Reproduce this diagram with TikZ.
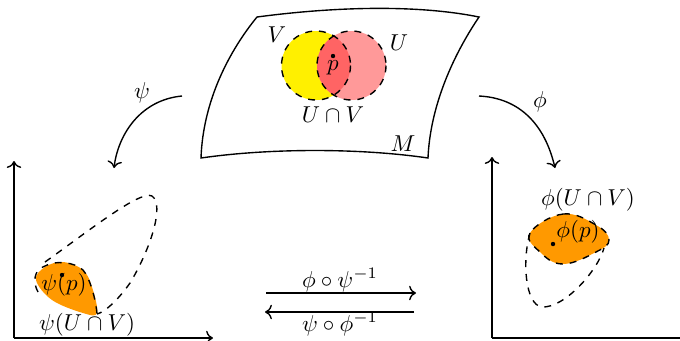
\documentclass[tikz,border=0pt]{standalone}
\usetikzlibrary{arrows.meta}
\definecolor{myyellow}{RGB}{255,240,0}
\definecolor{mypink}{RGB}{255,153,153}
\definecolor{myred}{RGB}{255,100,100}
\definecolor{myorange}{RGB}{255,153,0}
\begin{document}
\begin{tikzpicture}[x=0.435pt,y=-0.435pt,
  edge/.style={semithick},
  dashline/.style={semithick,dashed},
  axis/.style={semithick,-{To[length=3pt]}},
  maparrow/.style={semithick,-{To[length=3pt]}},
  lab/.style={inner sep=1pt}]
\useasboundingbox (0,0) rectangle (680,340);
% manifold
\draw[edge] (257,17) .. controls (340,6) and (420,5) .. (479,17)
  .. controls (450,60) and (430,110) .. (428,158)
  .. controls (360,148) and (270,148) .. (201,158)
  .. controls (203,100) and (230,50) .. (257,17) -- cycle;
\coordinate (cV) at (316,65.5);
\coordinate (cU) at (351.5,65.5);
\fill[myyellow] (cV) circle[radius=34.5];
\fill[mypink] (cU) circle[radius=34.5];
\begin{scope}
  \clip (cV) circle[radius=34.5];
  \fill[myred] (cU) circle[radius=34.5];
\end{scope}
\draw[dashline] (cV) circle[radius=34.5];
\draw[dashline] (cU) circle[radius=34.5];
\fill (333,56) circle[radius=2.2];
\node[lab] (p) at (333,68) {$p$};
\node[lab] (V) at (277,35) {$V$};
\node[lab] (U) at (399,43) {$U$};
\node[lab] (UV) at (333,115) {$U\cap V$};
\node[lab] (M) at (403,144) {$M$};
% left chart
\coordinate (lo) at (14,338);
\coordinate (ly) at (14,161);
\coordinate (lx) at (213,338);
\draw[axis] (lo) -- (ly);
\draw[axis] (lo) -- (lx);
\fill[myorange] plot[smooth cycle, tension=0.6] coordinates {(36,280) (45,267) (63,262) (83,270) (92,287) (97,313) (83,313) (52,300)};
\draw[dashline] (38,292) .. controls (33,283) and (33,270) .. (45,266)
  .. controls (55,260) and (75,262) .. (83,270)
  .. controls (90,278) and (96,300) .. (97,314);
\draw[dashline] (45,262) .. controls (90,230) and (140,190) .. (152,196)
  .. controls (165,205) and (150,250) .. (130,283)
  .. controls (118,300) and (105,312) .. (97,314);
\fill (62,275) circle[radius=2.2];
\node[lab] (psip) at (64,285) {$\psi(p)$};
\node[lab] (psiUV) at (87,325) {$\psi(U\cap V)$};
% right chart
\coordinate (ro) at (492,338);
\coordinate (ry) at (492,157);
\coordinate (rx) at (690,338);
\draw[axis] (ro) -- (ry);
\draw[axis] (ro) -- (rx);
\fill[myorange] plot[smooth cycle, tension=0.7] coordinates {(530,233) (563,214) (596,225) (609,240) (596,252) (563,264) (540,252)};
\draw[dashline] plot[smooth cycle, tension=0.7] coordinates {(530,233) (563,214) (596,225) (609,240) (596,252) (563,264) (540,252)};
\draw[dashline] (530,233) .. controls (522,260) and (525,305) .. (542,307)
  .. controls (565,308) and (598,270) .. (604,248);
\fill (553,244) circle[radius=2.2];
\node[lab] (phip) at (578,232) {$\phi(p)$};
\node[lab] (phiUV) at (588,200) {$\phi(U\cap V)$};
% chart maps
\coordinate (psiS) at (182,96);
\coordinate (psiE) at (114,168);
\draw[maparrow] (psiS) .. controls (140,100) and (118,135) .. (psiE);
\node[lab] (psi) at (142,93) {$\psi$};
\coordinate (phiS) at (479,96);
\coordinate (phiE) at (555,168);
\draw[maparrow] (phiS) .. controls (520,98) and (545,125) .. (phiE);
\node[lab] (phi) at (540,102) {$\phi$};
% transition maps
\coordinate (t1a) at (266,293);
\coordinate (t1b) at (416,293);
\coordinate (t2a) at (414,312);
\coordinate (t2b) at (265,312);
\draw[maparrow] (t1a) -- (t1b);
\draw[maparrow] (t2a) -- (t2b);
\node[lab] (tr1) at (340,280) {$\phi\circ\psi^{-1}$};
\node[lab] (tr2) at (340,324) {$\psi\circ\phi^{-1}$};
\end{tikzpicture}
\end{document}
